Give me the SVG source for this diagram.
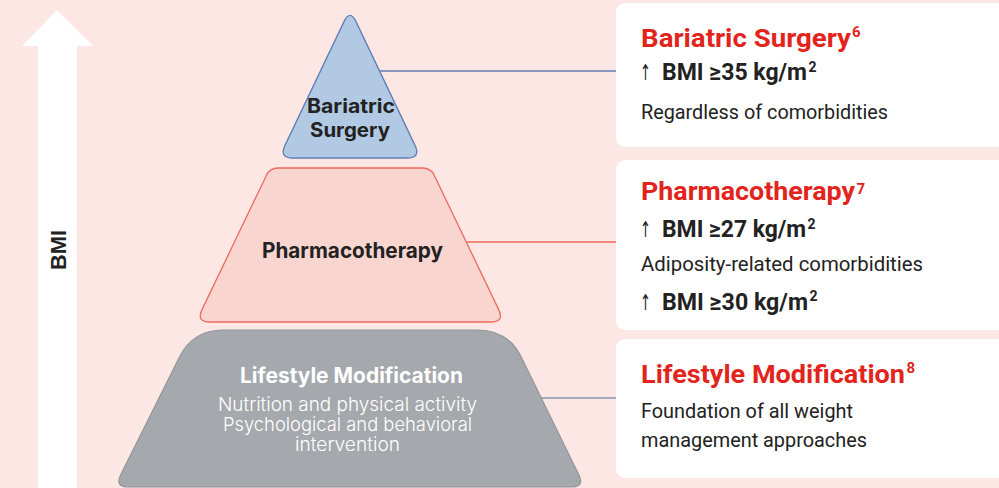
<svg xmlns="http://www.w3.org/2000/svg" width="999" height="488" viewBox="0 0 999 488">
<style>
.bg{fill:#FDE7E5}
.card{fill:#FFFFFF}
.pt{font-family:Inter,"Liberation Sans",sans-serif;font-weight:700;fill:#222222;text-anchor:middle}
.pw{font-family:Inter,"Liberation Sans",sans-serif;fill:#FFFFFF;text-anchor:middle}
.ttl{font-family:Roboto,"Liberation Sans",sans-serif;font-weight:700;fill:#E2241C;font-size:26.5px}
.bmi{font-family:Roboto,"Liberation Sans",sans-serif;font-weight:700;fill:#222222;font-size:24px}
.arr{font-family:"DejaVu Sans",sans-serif;font-weight:400;fill:#222222;font-size:22px}
.reg{font-family:Roboto,"Liberation Sans",sans-serif;font-weight:400;fill:#222222}
.con{fill:none;stroke-width:1.3}
.sup{font-family:Roboto,"Liberation Sans",sans-serif;font-weight:700}
</style>
<rect class="bg" x="0" y="0" width="999" height="488"/>
<g id="bmi-axis">
<polygon points="38,488 38,46 22,46 57,10 93,46 77,46 77,488" fill="#FFFFFF"/>
<text x="0" y="0" transform="translate(66,250) rotate(-90)" font-family="Liberation Sans, sans-serif" font-weight="700" font-size="22" fill="#222222" text-anchor="middle" textLength="40" lengthAdjust="spacingAndGlyphs">BMI</text>
</g>
<g id="connectors">
<line class="con" x1="378" y1="71" x2="617" y2="71" stroke="#5F7CB0"/>
<line class="con" x1="465" y1="242" x2="617" y2="242" stroke="#EC6A5E"/>
<line class="con" x1="540" y1="398" x2="617" y2="398" stroke="#8594A6"/>
</g>
<g id="node-bariatric">
<path d="M344,21.6 Q350,9 356,21.6 L415,145.4 Q421,158 407,158 L293,158 Q279,158 285,145.4 Z" fill="#B1C9E3" stroke="#5F7FB4" stroke-width="1.3"/>
<text class="pt" x="351" y="113" font-size="20" textLength="88" lengthAdjust="spacingAndGlyphs">Bariatric</text>
<text class="pt" x="350" y="137" font-size="20" textLength="80" lengthAdjust="spacingAndGlyphs">Surgery</text>
</g>
<g id="node-pharmacotherapy">
<path d="M278,168 L422.7,168 Q430.7,168 434.2,175.2 L498.6,309.4 Q504.7,322 490.7,322 L210,322 Q196,322 202.1,309.4 L266.5,175.2 Q270,168 278,168 Z" fill="#F9D5CF" stroke="#EC6A5E" stroke-width="1.3"/>
<text class="pt" x="352.5" y="258" font-size="21" textLength="181" lengthAdjust="spacingAndGlyphs">Pharmacotherapy</text>
</g>
<g id="node-lifestyle">
<path d="M223,330 L477.7,330 Q507.7,330 521.1,356.8 L578.7,474.5 Q585,487 571,487 L128.5,487 Q114.5,487 120.8,474.5 L179.6,356.8 Q193,330 223,330 Z" fill="#A5A8AC" stroke="#92969B" stroke-width="1.2"/>
<text class="pw" x="351.5" y="383" font-size="21" font-weight="700" textLength="223" lengthAdjust="spacingAndGlyphs">Lifestyle Modification</text>
<text class="pw" x="347.5" y="411" font-size="18.5" font-weight="300" textLength="259" lengthAdjust="spacingAndGlyphs">Nutrition and physical activity</text>
<text class="pw" x="347.5" y="431" font-size="18.5" font-weight="300" textLength="249" lengthAdjust="spacingAndGlyphs">Psychological and behavioral</text>
<text class="pw" x="347.5" y="451" font-size="18.5" font-weight="300" textLength="105" lengthAdjust="spacingAndGlyphs">intervention</text>
</g>
<g id="card-bariatric">
<rect class="card" x="616" y="3" width="400" height="144" rx="9"/>
<text class="ttl" x="641" y="47" textLength="210" lengthAdjust="spacingAndGlyphs">Bariatric Surgery</text>
<text class="sup" x="852" y="37" font-size="15" fill="#E2241C">6</text>
<text class="arr" x="640" y="80" textLength="11" lengthAdjust="spacingAndGlyphs">↑</text>
<text class="bmi" transform="translate(662,80) scale(0.93,1)" x="0" y="0" textLength="156" lengthAdjust="spacingAndGlyphs">BMI ≥35 kg/m</text>
<text class="sup" x="808.5" y="72" font-size="14" fill="#222222">2</text>
<text class="reg" x="641" y="119" font-size="20.5" textLength="247" lengthAdjust="spacingAndGlyphs">Regardless of comorbidities</text>
</g>
<g id="card-pharmacotherapy">
<rect class="card" x="616" y="160" width="400" height="170" rx="9"/>
<text class="ttl" x="641" y="200" textLength="214" lengthAdjust="spacingAndGlyphs">Pharmacotherapy</text>
<text class="sup" x="856.5" y="194" font-size="15" fill="#E2241C">7</text>
<text class="arr" x="640" y="237" textLength="11" lengthAdjust="spacingAndGlyphs">↑</text>
<text class="bmi" transform="translate(662,237) scale(0.93,1)" x="0" y="0" textLength="155" lengthAdjust="spacingAndGlyphs">BMI ≥27 kg/m</text>
<text class="sup" x="807.5" y="229" font-size="14" fill="#222222">2</text>
<text class="reg" x="641" y="271" font-size="20.5" textLength="282" lengthAdjust="spacingAndGlyphs">Adiposity-related comorbidities</text>
<text class="arr" x="640" y="310" textLength="11" lengthAdjust="spacingAndGlyphs">↑</text>
<text class="bmi" transform="translate(662,310) scale(0.93,1)" x="0" y="0" textLength="157" lengthAdjust="spacingAndGlyphs">BMI ≥30 kg/m</text>
<text class="sup" x="809.5" y="301" font-size="14" fill="#222222">2</text>
</g>
<g id="card-lifestyle">
<rect class="card" x="616" y="339" width="400" height="139" rx="9"/>
<text class="ttl" x="641" y="383" textLength="264" lengthAdjust="spacingAndGlyphs">Lifestyle Modification</text>
<text class="sup" x="906.5" y="373" font-size="15" fill="#E2241C">8</text>
<text class="reg" x="641" y="418" font-size="21" textLength="212" lengthAdjust="spacingAndGlyphs">Foundation of all weight</text>
<text class="reg" x="641" y="447" font-size="21" textLength="226" lengthAdjust="spacingAndGlyphs">management approaches</text>
</g>
</svg>
